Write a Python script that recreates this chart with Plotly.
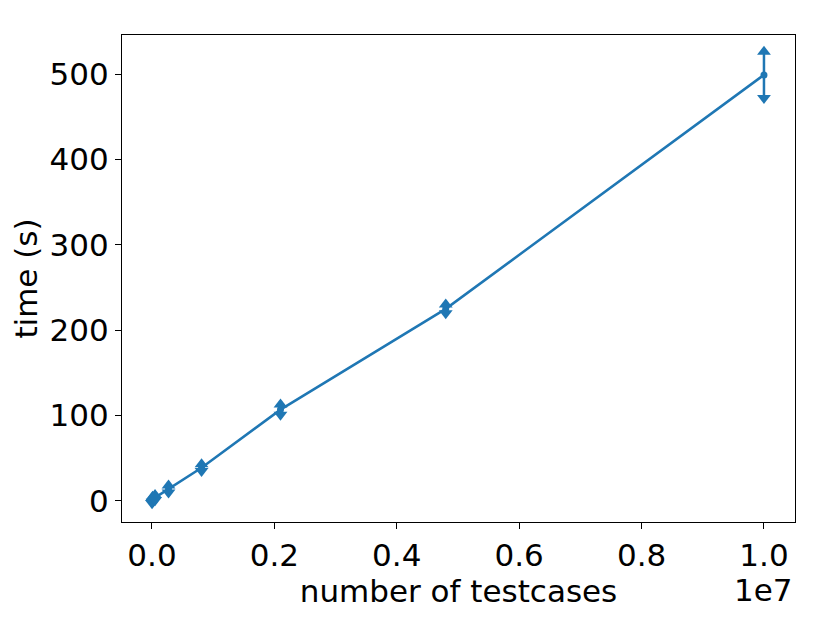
import plotly.graph_objects as go

# measured runtimes vs number of testcases
n_testcases = [1000, 10000, 50000, 270000, 810000, 2100000, 4800000, 10000000]
time_mean = [0.5, 2, 4, 14, 39, 107, 225, 499]
time_err = [3, 3, 3, 4, 4, 6, 5, 27]

blue = '#1f77b4'
upper = [m + e for m, e in zip(time_mean, time_err)]
lower = [m - e for m, e in zip(time_mean, time_err)]

fig = go.Figure()
fig.add_trace(go.Scatter(x=n_testcases, y=time_mean, mode='lines+markers',
                         line=dict(color=blue, width=2.5),
                         marker=dict(color=blue, size=7, symbol='circle'),
                         error_y=dict(type='data', array=time_err, color=blue,
                                      thickness=2.5, width=0),
                         showlegend=False))
fig.add_trace(go.Scatter(x=n_testcases, y=upper, mode='markers',
                         marker=dict(color=blue, size=12, symbol='triangle-up'),
                         showlegend=False))
fig.add_trace(go.Scatter(x=n_testcases, y=lower, mode='markers',
                         marker=dict(color=blue, size=12, symbol='triangle-down'),
                         showlegend=False))

axis_style = dict(showline=True, linecolor='black', linewidth=1.3, mirror=True,
                  ticks='outside', ticklen=6, tickwidth=1.3, tickcolor='black',
                  showgrid=False, zeroline=False,
                  tickfont=dict(size=31, color='black'))

fig.update_xaxes(range=[-490000, 10507000],
                 tickvals=[0, 2000000, 4000000, 6000000, 8000000, 10000000],
                 ticktext=['0.0', '0.2', '0.4', '0.6', '0.8', '1.0'],
                 title=dict(text='number of testcases', font=dict(size=31, color='black'),
                            standoff=4),
                 **axis_style)
fig.update_yaxes(range=[-24.6, 545.7], tickvals=[0, 100, 200, 300, 400, 500],
                 title=dict(text='time (s)', font=dict(size=31, color='black'),
                            standoff=8),
                 **axis_style)

fig.add_annotation(text='1e7', x=1, y=0, xref='paper', yref='paper',
                   xanchor='right', yanchor='top', yshift=-48, xshift=0,
                   showarrow=False, font=dict(size=31, color='black'))

fig.update_layout(width=830, height=623,
                  margin=dict(l=114, r=43, t=27, b=109),
                  plot_bgcolor='white', paper_bgcolor='white',
                  font=dict(family='DejaVu Sans', color='black'))

fig.write_html("out.html")
